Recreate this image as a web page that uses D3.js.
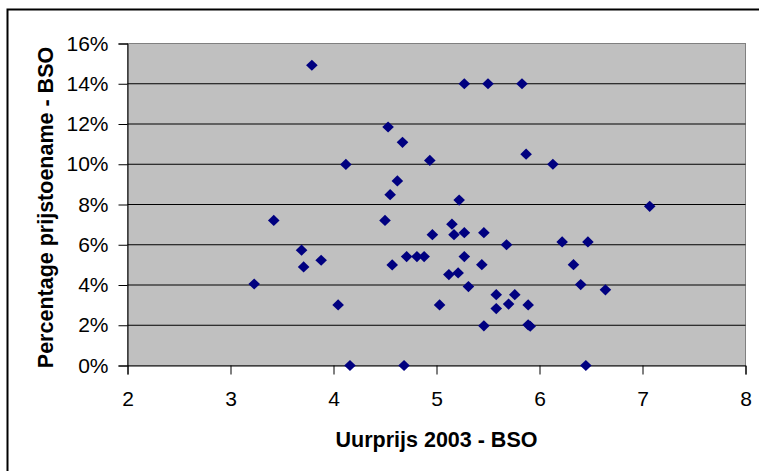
<!DOCTYPE html>
<html>
<head>
<meta charset="utf-8">
<script src="https://cdn.jsdelivr.net/npm/d3@7"></script>
<style>
  html, body { margin: 0; padding: 0; background: #fff; }
  svg { display: block; }
  text { font-family: "Liberation Sans", Arial, sans-serif; fill: #000; }
</style>
</head>
<body>
<svg id="chart" width="759" height="471"></svg>
<script>
// Uurprijs 2003 - BSO (x) and Percentage prijstoename - BSO (y, in %)
const uurprijs = [
  3.23, 3.42, 3.69, 3.71, 3.79, 3.88, 4.045, 4.12, 4.16, 4.50,
  4.53, 4.55, 4.57, 4.62, 4.67, 4.685, 4.71, 4.81, 4.88, 4.935,
  4.96, 5.03, 5.12, 5.15, 5.17, 5.21, 5.22, 5.27, 5.27, 5.27,
  5.31, 5.44, 5.46, 5.46, 5.50, 5.58, 5.58, 5.68, 5.70, 5.76,
  5.83, 5.87, 5.89, 5.89, 5.91, 6.13, 6.22, 6.33, 6.40, 6.45,
  6.47, 6.64, 7.07
];
const prijstoename = [
  4.05, 7.21, 5.73, 4.90, 14.92, 5.23, 3.01, 9.99, 0.0, 7.21,
  11.85, 8.49, 5.00, 9.17, 11.09, 0.0, 5.41, 5.41, 5.41, 10.19,
  6.50, 3.01, 4.52, 7.02, 6.50, 4.60, 8.22, 14.0, 6.60, 5.41,
  3.92, 5.01, 6.60, 1.97, 14.0, 3.52, 2.83, 6.00, 3.05, 3.52,
  14.0, 10.5, 3.01, 2.02, 1.95, 10.0, 6.14, 5.01, 4.02, 0.0,
  6.14, 3.76, 7.91
];
const xTicks = [2, 3, 4, 5, 6, 7, 8];
const yTicks = [0, 2, 4, 6, 8, 10, 12, 14, 16];
const xTitle = "Uurprijs 2003 - BSO";
const yTitle = "Percentage prijstoename - BSO";

(function () {
const data = uurprijs.map((v, i) => ({ x: v, y: prijstoename[i] }));

const svg = d3.select("#chart");
const pLeft = 127.5, pRight = 745.5, pTop = 43.5, pBottom = 365.5;
const tickFont = 21, titleFont = 21.5;

const x = d3.scaleLinear().domain([2, 8]).range([pLeft, pRight]);
const y = d3.scaleLinear().domain([0, 16]).range([pBottom, pTop]);

// outer chart border (extends beyond the image on right/bottom)
svg.append("rect")
  .attr("x", 7.5).attr("y", 9.5)
  .attr("width", 800).attr("height", 500)
  .attr("fill", "#fff").attr("stroke", "#000").attr("stroke-width", 2);

// plot area
svg.append("rect")
  .attr("x", pLeft).attr("y", pTop)
  .attr("width", pRight - pLeft).attr("height", pBottom - pTop)
  .attr("fill", "#c0c0c0").attr("stroke", "#808080").attr("stroke-width", 1);

// gridlines
svg.append("g").selectAll("line")
  .data(yTicks.filter(d => d > 0 && d < 16))
  .join("line")
  .attr("x1", pLeft).attr("x2", pRight)
  .attr("y1", d => y(d)).attr("y2", d => y(d))
  .attr("stroke", "#000").attr("stroke-width", 1);

// y axis
const yAxis = d3.axisLeft(y).tickValues(yTicks).tickSize(9).tickPadding(10)
  .tickFormat(d => d + "%");
const gy = svg.append("g").attr("transform", `translate(${pLeft},0)`).call(yAxis);
gy.select(".domain").attr("stroke", "#000").attr("stroke-width", 1);
gy.selectAll(".tick line").attr("stroke", "#000");
gy.selectAll("text").attr("font-size", tickFont).attr("font-family", "Liberation Sans, Arial, sans-serif").attr("fill", "#000");

// x axis
const xAxis = d3.axisBottom(x).tickValues(xTicks).tickSize(9).tickPadding(17)
  .tickFormat(d3.format("d"));
const gx = svg.append("g").attr("transform", `translate(0,${pBottom})`).call(xAxis);
gx.select(".domain").attr("stroke", "#000").attr("stroke-width", 1);
gx.selectAll(".tick line").attr("stroke", "#000");
gx.selectAll("text").attr("font-size", tickFont).attr("font-family", "Liberation Sans, Arial, sans-serif").attr("fill", "#000");

// points
const diamond = "M0,-5.6L5.8,0L0,5.6L-5.8,0Z";
svg.append("g").selectAll("path")
  .data(data)
  .join("path")
  .attr("d", diamond)
  .attr("transform", d => `translate(${x(d.x)},${y(d.y)})`)
  .attr("fill", "#000080");

// axis titles
svg.append("text")
  .attr("x", (pLeft + pRight) / 2).attr("y", 447)
  .attr("text-anchor", "middle")
  .attr("font-size", titleFont).attr("font-weight", "bold")
  .text(xTitle);

svg.append("text")
  .attr("transform", `translate(53,${(pTop + pBottom) / 2 + 3}) rotate(-90)`)
  .attr("text-anchor", "middle")
  .attr("font-size", titleFont).attr("font-weight", "bold")
  .text(yTitle);
})();
</script>
</body>
</html>
